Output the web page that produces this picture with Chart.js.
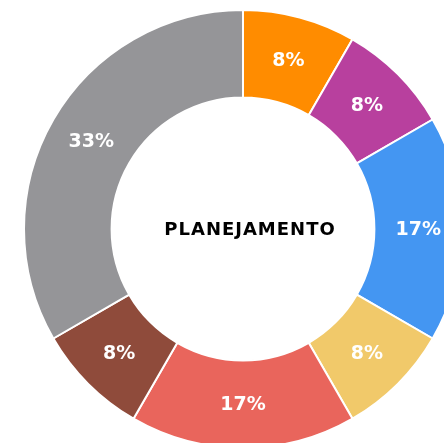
<!DOCTYPE html>
<html>
<head>
<meta charset="utf-8">
<script src="https://cdn.jsdelivr.net/npm/chart.js@4"></script>
<style>
  html, body { margin: 0; padding: 0; background: #fff; overflow: hidden; width: 444px; height: 443px; }
  #wrap { position: absolute; left: 23px; top: 9px; width: 440px; height: 440px; }
</style>
</head>
<body>
<div id="wrap"><canvas id="chart" width="440" height="440"></canvas></div>
<script>
const labels = ['Item 1', 'Item 2', 'Item 3', 'Item 4', 'Item 5', 'Item 6', 'Item 7']
const values = [1, 1, 2, 1, 2, 1, 4]
const colors = ['#ff8c00', '#b8409e', '#4496f2', '#f1c96a', '#e9655c', '#8f4b3b', '#959598']
const centerText = 'PLANEJAMENTO'

const total = values.reduce((a, b) => a + b, 0)

// draws the % inside each slice and the title in the hole
const sliceLabels = {
  id: 'sliceLabels',
  afterDatasetsDraw(chart) {
    const ctx = chart.ctx
    const meta = chart.getDatasetMeta(0)
    ctx.save()
    ctx.textAlign = 'center'
    ctx.textBaseline = 'middle'
    ctx.fillStyle = '#fff'
    ctx.font = "bold 19px 'DejaVu Sans'"
    meta.data.forEach((arc, i) => {
      const p = arc.getCenterPoint()
      ctx.fillText(Math.round(values[i] / total * 100) + '%', p.x, p.y + 1)
    })
    const a = meta.data[0]
    ctx.fillStyle = '#000'
    ctx.font = "bold 18px 'DejaVu Sans'"
    ctx.letterSpacing = '1px'
    ctx.fillText(centerText, a.x + 7, a.y + 1)
    ctx.restore()
  }
}

new Chart(document.getElementById('chart'), {
  type: 'doughnut',
  data: {
    labels: labels,
    datasets: [{
      data: values,
      backgroundColor: colors,
      borderColor: '#fff',
      borderWidth: 2
    }]
  },
  options: {
    responsive: false,
    animation: false,
    cutout: '60%',
    layout: { padding: 0 },
    plugins: {
      legend: { display: false },
      tooltip: { enabled: false }
    }
  },
  plugins: [sliceLabels]
})
</script>
</body>
</html>
